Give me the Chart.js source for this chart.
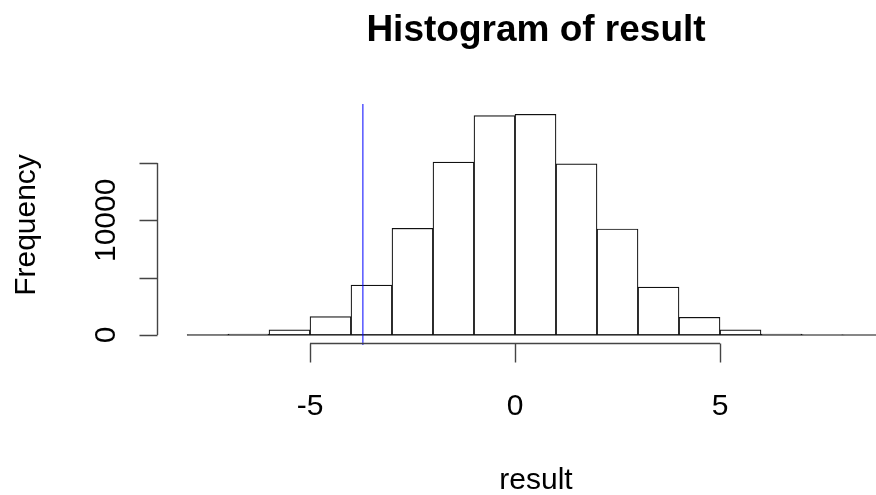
<!DOCTYPE html>
<html>
<head>
<meta charset="utf-8">
<script src="https://cdn.jsdelivr.net/npm/chart.js@4"></script>
<style>
  html, body { margin: 0; padding: 0; background: #fff; }
  canvas { display: block; }
</style>
</head>
<body>
<canvas id="chart" width="876" height="495"></canvas>
<script>
// dati dell'istogramma
const binStarts = [-8, -7, -6, -5, -4, -3, -2, -1, 0, 1, 2, 3, 4, 5, 6, 7, 8];
const binWidth = 1;
const counts = [5, 80, 455, 1596, 4360, 9305, 15070, 19140, 19250, 14930, 9245, 4185, 1545, 455, 80, 10, 1];
const cutoff = -3.71; // linea blu verticale

// assi
const xTicks = [-5, 0, 5];
const xTickLabels = ["-5", "0", "5"];
const yTicks = [0, 5000, 10000, 15000];
const yTickLabels = ["0", "", "10000", ""];

const titleText = "Histogram of result";
const xTitle = "result";
const yTitle = "Frequency";

const FONT = '"Liberation Sans", Arial, Helvetica, sans-serif';

// barre come punti {x: centro, y: conteggio}
const barData = binStarts.map((s, i) => ({ x: s + binWidth / 2, y: counts[i] }));
const firstEdge = binStarts[0];
const lastEdge = binStarts[binStarts.length - 1] + binWidth;

// Plugin per disegnare assi e testi in stile R
const rAxes = {
  id: "rAxes",
  afterDraw(chart) {
    const ctx = chart.ctx;
    const x = chart.scales.x;
    const y = chart.scales.y;
    const area = chart.chartArea;
    ctx.save();
    ctx.strokeStyle = "#444";
    ctx.lineWidth = 1.4;
    ctx.fillStyle = "#000";

    // asse y
    const yTop = y.getPixelForValue(yTicks[yTicks.length - 1]);
    const yBot = y.getPixelForValue(yTicks[0]);
    const axX = area.left + 0.5;
    ctx.beginPath();
    ctx.moveTo(axX, yTop);
    ctx.lineTo(axX, yBot);
    yTicks.forEach((t) => {
      const py = Math.round(y.getPixelForValue(t)) + 0.5;
      ctx.moveTo(axX, py);
      ctx.lineTo(axX - 18, py);
    });
    ctx.stroke();

    ctx.font = "30px " + FONT;
    ctx.textAlign = "center";
    ctx.textBaseline = "alphabetic";
    yTicks.forEach((t, i) => {
      if (!yTickLabels[i]) return;
      ctx.save();
      ctx.translate(115, y.getPixelForValue(t));
      ctx.rotate(-Math.PI / 2);
      ctx.fillText(yTickLabels[i], 0, 0);
      ctx.restore();
    });

    // asse x
    const axY = area.bottom - 1.5;
    const xl = x.getPixelForValue(xTicks[0]);
    const xr = x.getPixelForValue(xTicks[xTicks.length - 1]);
    ctx.beginPath();
    ctx.moveTo(xl, axY);
    ctx.lineTo(xr, axY);
    xTicks.forEach((t) => {
      const px = Math.round(x.getPixelForValue(t)) + 0.5;
      ctx.moveTo(px, axY);
      ctx.lineTo(px, axY + 19);
    });
    ctx.stroke();

    xTicks.forEach((t, i) => {
      ctx.fillText(xTickLabels[i], x.getPixelForValue(t), 415);
    });

    // titoli
    ctx.fillText(xTitle, 536, 489);
    ctx.save();
    ctx.translate(35, 225);
    ctx.rotate(-Math.PI / 2);
    ctx.fillText(yTitle, 0, 0);
    ctx.restore();

    ctx.font = "bold 37px " + FONT;
    ctx.fillText(titleText, 536, 41);
    ctx.restore();
  },
};

const config = {
  type: "bar",
  data: {
    datasets: [
      {
        type: "bar",
        data: barData,
        backgroundColor: "#ffffff",
        borderColor: "#111",
        borderWidth: 1.2,
        borderSkipped: false,
        barPercentage: 1,
        categoryPercentage: 1,
        order: 2,
      },
      {
        type: "line",
        data: [{ x: firstEdge, y: 0 }, { x: lastEdge, y: 0 }],
        borderColor: "#111",
        borderWidth: 1.2,
        pointRadius: 0,
        order: 1,
      },
      {
        type: "line",
        data: [{ x: cutoff, y: -872 }, { x: cutoff, y: 20145 }],
        borderColor: "#0000ff",
        borderWidth: 1,
        pointRadius: 0,
        order: 0,
      },
    ],
  },
  options: {
    responsive: false,
    animation: false,
    layout: { padding: { left: 157, right: 0, top: 104, bottom: 150 } },
    scales: {
      x: { type: "linear", min: -8.732, max: 8.805, offset: false, display: false },
      y: { type: "linear", min: -872, max: 20145, display: false },
    },
    plugins: {
      legend: { display: false },
      tooltip: { enabled: false },
      title: { display: false },
    },
  },
  plugins: [rAxes],
};

const ctx = document.getElementById("chart").getContext("2d");
const chart = new Chart(ctx, config);
</script>
</body>
</html>
